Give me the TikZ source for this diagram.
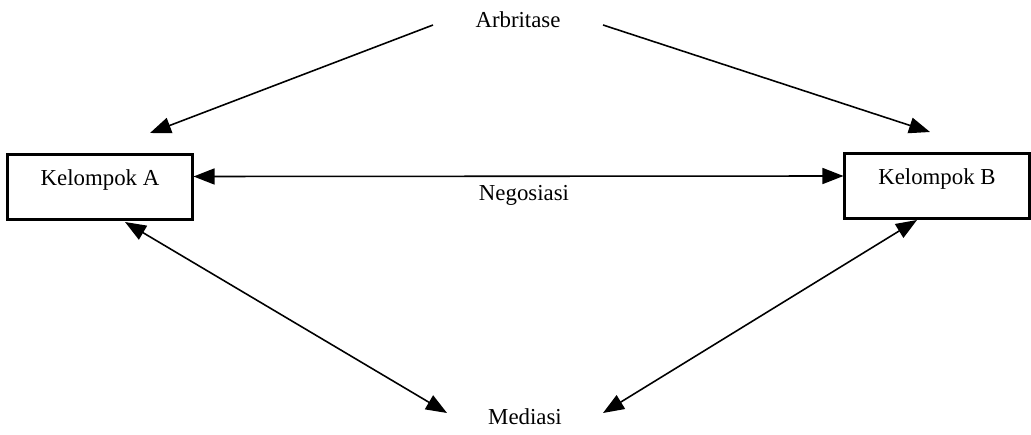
\documentclass[tikz,border=0pt]{standalone}
\usepackage{fontspec}
\setmainfont{Liberation Serif}
\usetikzlibrary{arrows.meta}

\tikzstyle{block} = [rectangle, draw, line width=1.2pt, fill=white, minimum width=3.7cm, minimum height=1.3cm, text depth=0.38cm, text centered, font=\fontsize{13}{15}\selectfont]
\tikzstyle{label} = [font=\fontsize{13}{15}\selectfont]
\tikzstyle{line} = [line width=0.9pt, {Triangle[length=0.42cm, width=0.32cm]}-{Triangle[length=0.42cm, width=0.32cm]}]
\tikzstyle{single} = [line width=0.9pt, -{Triangle[length=0.42cm, width=0.32cm]}]

\begin{document}
\begin{tikzpicture}[x=0.02cm, y=-0.02cm]

\useasboundingbox (0,0) rectangle (1031,435);

\node [block] (grA) at (100,187) {Kelompok A};

\node [block] (grB) at (937,186) {Kelompok B};

\node [label] (arb) at (518,20) {Arbritase};

\node [label] (neg) at (524,195) {Negosiasi};

\node [label] (med) at (525,417) {Mediasi};

\coordinate (arbL) at (433,25);

\coordinate (arbR) at (603,25);

\coordinate (tipA) at (150,133);

\coordinate (tipB) at (930,132);

\coordinate (medA) at (125,222);

\coordinate (medL) at (447,413);

\coordinate (medB) at (917,220);

\coordinate (medR) at (603,413);

\draw [single] (arbL) -- (tipA);

\draw [single] (arbR) -- (tipB);

\draw [line] ([yshift=0.21cm]grA.east) -- ([yshift=0.2cm]grB.west);

\draw [line] (medA) -- (medL);

\draw [line] (medB) -- (medR);

\end{tikzpicture}
\end{document}
